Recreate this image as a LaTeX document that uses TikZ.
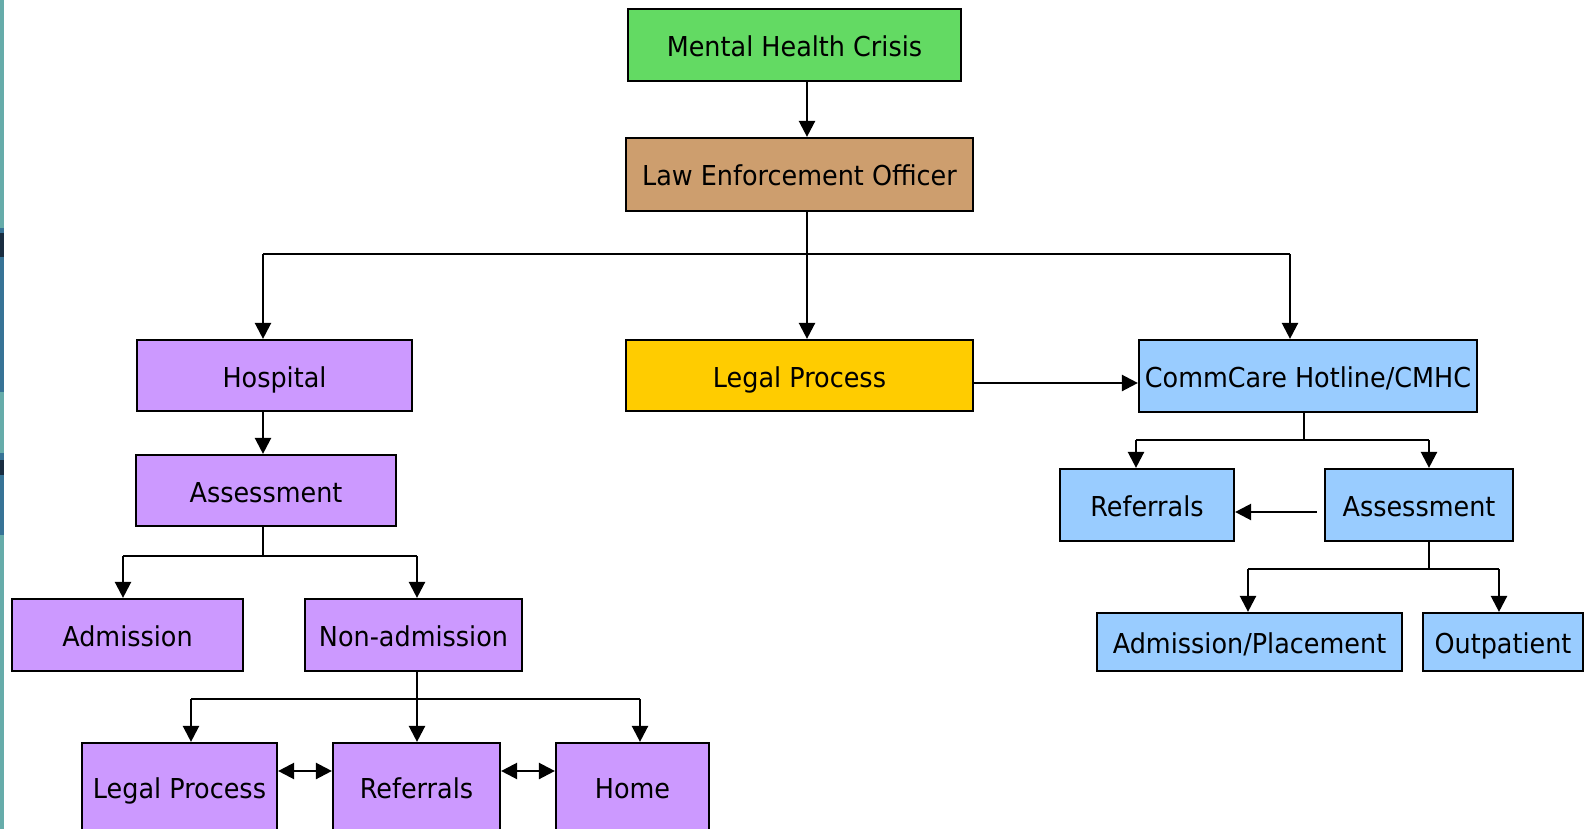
\documentclass[tikz,border=0pt]{standalone}
\usepackage{fontspec}
\setmainfont{DejaVu Sans}[FakeStretch=0.93]
\usetikzlibrary{arrows.meta,calc}
\definecolor{cgreen}{RGB}{99,218,99}
\definecolor{ctan}{RGB}{205,158,110}
\definecolor{cpurple}{RGB}{204,153,255}
\definecolor{cyellow}{RGB}{255,204,0}
\definecolor{cblue}{RGB}{153,204,255}
\definecolor{cteal}{RGB}{102,172,170}
\definecolor{cdark}{RGB}{55,115,150}
\definecolor{cdarker}{RGB}{25,45,65}
\tikzset{
  box/.style={draw=black, line width=2.2pt, inner sep=0pt, text height=26pt, text depth=3pt, font=\fontsize{27.4}{30}\selectfont, text=black},
  conn/.style={line width=2.4pt, draw=black},
  arr/.style={conn, -{Triangle[length=16pt,width=16pt]}},
  darr/.style={conn, {Triangle[length=16pt,width=16pt]}-{Triangle[length=16pt,width=16pt]}},
}
\begin{document}
\begin{tikzpicture}[x=1pt,y=-1pt]
\useasboundingbox (0,0) rectangle (1593,829);
\clip (0,0) rectangle (1593,829);
\fill[white] (0,0) rectangle (1593,829);
\fill[cteal] (0,0) rectangle (4,829);
\fill[cdark] (0,228) rectangle (4,392);
\fill[cdark] (0,453) rectangle (4,535);
\fill[cdarker] (0,233) rectangle (4,257);
\fill[cdarker] (0,460) rectangle (4,475);

% nodes
\node[box, fill=cgreen, minimum width=333pt, minimum height=72pt] (mhc) at (794.5,45) {Mental Health Crisis};
\node[box, fill=ctan, minimum width=347pt, minimum height=73pt] (leo) at (799.5,174.5) {Law Enforcement Officer};
\node[box, fill=cpurple, minimum width=275pt, minimum height=71pt] (hosp) at (274.5,375.5) {Hospital};
\node[box, fill=cyellow, minimum width=347pt, minimum height=71pt] (legal) at (799.5,375.5) {Legal Process};
\node[box, fill=cblue, minimum width=338pt, minimum height=72pt] (cc) at (1308,376) {CommCare Hotline/CMHC};
\node[box, fill=cpurple, minimum width=260pt, minimum height=71pt] (assl) at (266,490.5) {Assessment};
\node[box, fill=cpurple, minimum width=231pt, minimum height=72pt] (adm) at (127.5,635) {Admission};
\node[box, fill=cpurple, minimum width=217pt, minimum height=72pt] (nadm) at (413.5,635) {Non-admission};
\node[box, fill=cpurple, minimum width=195pt, minimum height=88pt] (lp2) at (179.5,787) {Legal Process};
\node[box, fill=cpurple, minimum width=167pt, minimum height=88pt] (ref2) at (416.5,787) {Referrals};
\node[box, fill=cpurple, minimum width=153pt, minimum height=88pt] (home) at (632.5,787) {Home};
\node[box, fill=cblue, minimum width=174pt, minimum height=72pt] (refr) at (1147,505) {Referrals};
\node[box, fill=cblue, minimum width=188pt, minimum height=72pt] (assr) at (1419,505) {Assessment};
\node[box, fill=cblue, minimum width=305pt, minimum height=58pt] (admp) at (1249.5,642) {Admission/Placement};
\node[box, fill=cblue, minimum width=160pt, minimum height=58pt] (outp) at (1503,642) {Outpatient};

% helper coordinates
\coordinate (sx) at (807,0);
\coordinate (bus1) at (0,254);
\coordinate (hx) at (263,0);
\coordinate (cx) at (1290,0);
\coordinate (bus2) at (0,556);
\coordinate (admx) at (123,0);
\coordinate (nadx) at (417,0);
\coordinate (bus3) at (0,699);
\coordinate (lpx) at (191,0);
\coordinate (homex) at (640,0);
\coordinate (ccx) at (1304,0);
\coordinate (bus4) at (0,440);
\coordinate (rfx) at (1136,0);
\coordinate (asx) at (1429,0);
\coordinate (bus5) at (0,569);
\coordinate (apx) at (1248,0);
\coordinate (opx) at (1499,0);
\coordinate (y383) at (0,383);
\coordinate (y771) at (0,771);
\coordinate (y512) at (0,512);

% connectors
\draw[arr] (mhc.south -| sx) -- (leo.north -| sx);
\draw[arr] (leo.south -| sx) -- (legal.north -| sx);
\draw[conn] (bus1 -| hx) -- (bus1 -| cx);
\draw[arr] (bus1 -| hx) -- (hosp.north -| hx);
\draw[arr] (bus1 -| cx) -- (cc.north -| cx);
\draw[arr] (legal.east |- y383) -- (cc.west |- y383);

\draw[arr] (hosp.south -| hx) -- (assl.north -| hx);
\draw[conn] (assl.south -| hx) -- (bus2 -| hx);
\draw[conn] (bus2 -| admx) -- (bus2 -| nadx);
\draw[arr] (bus2 -| admx) -- (adm.north -| admx);
\draw[arr] (bus2 -| nadx) -- (nadm.north -| nadx);

\draw[conn] (nadm.south -| nadx) -- (bus3 -| nadx);
\draw[conn] (bus3 -| lpx) -- (bus3 -| homex);
\draw[arr] (bus3 -| lpx) -- (lp2.north -| lpx);
\draw[arr] (bus3 -| nadx) -- (ref2.north -| nadx);
\draw[arr] (bus3 -| homex) -- (home.north -| homex);
\draw[darr] (lp2.east |- y771) -- (ref2.west |- y771);
\draw[darr] (ref2.east |- y771) -- (home.west |- y771);

\draw[conn] (cc.south -| ccx) -- (bus4 -| ccx);
\draw[conn] (bus4 -| rfx) -- (bus4 -| asx);
\draw[arr] (bus4 -| rfx) -- (refr.north -| rfx);
\draw[arr] (bus4 -| asx) -- (assr.north -| asx);
\draw[arr, shorten <=7pt] (assr.west |- y512) -- (refr.east |- y512);

\draw[conn] (assr.south -| asx) -- (bus5 -| asx);
\draw[conn] (bus5 -| apx) -- (bus5 -| opx);
\draw[arr] (bus5 -| apx) -- (admp.north -| apx);
\draw[arr] (bus5 -| opx) -- (outp.north -| opx);
\end{tikzpicture}
\end{document}
